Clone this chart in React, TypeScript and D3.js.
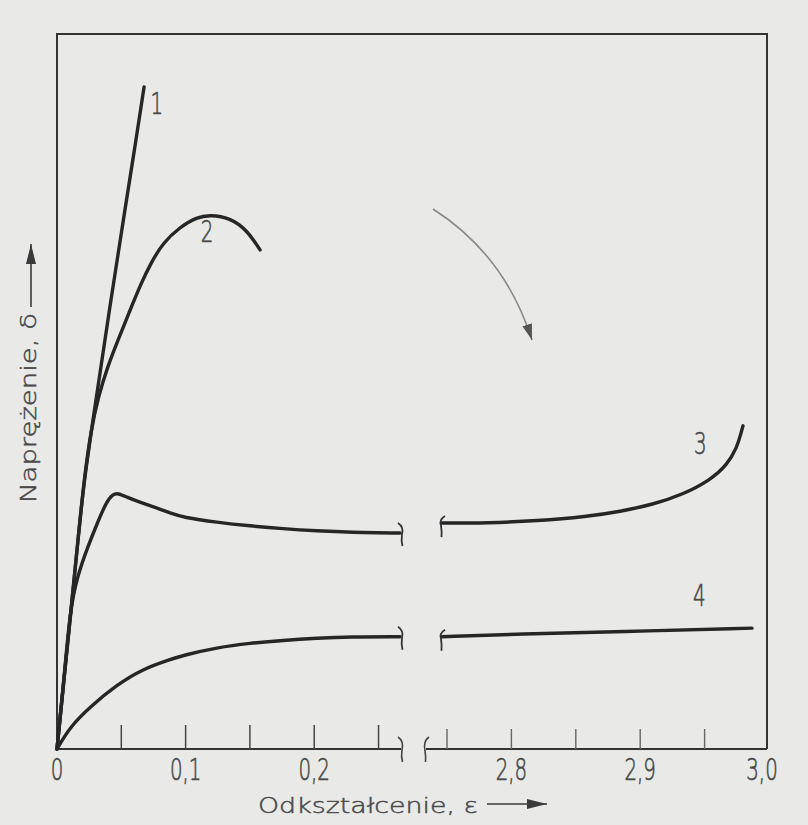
import React from "react";
import * as d3 from "d3";

// ---- data (strain ε, stress σ in arbitrary units 0..100) ----
const leftTicks = [0, 0.05, 0.1, 0.15, 0.2, 0.25];
const rightTicks = [2.75, 2.8, 2.85, 2.9, 2.95];
const leftTickLabels = [
  { v: 0, t: "0" },
  { v: 0.1, t: "0,1" },
  { v: 0.2, t: "0,2" },
];
const rightTickLabels = [
  { v: 2.8, t: "2,8" },
  { v: 2.9, t: "2,9" },
  { v: 3.0, t: "3,0" },
];

const curve1: [number, number][] = [
  [0, 0], [0.0054, 9.7], [0.0109, 19.4], [0.0163, 29.2], [0.021, 37.6],
  [0.0303, 48.8], [0.0412, 62.0], [0.0529, 75.5], [0.0604, 84.0], [0.0677, 92.6],
];
const curve2: [number, number][] = [
  [0, 0], [0.0054, 9.7], [0.0109, 19.4], [0.0163, 29.2], [0.021, 37.6],
  [0.0264, 44.6], [0.0322, 49.3], [0.0390, 53.3], [0.0472, 57.1], [0.0560, 61.0],
  [0.0648, 64.9], [0.0731, 68.0], [0.0824, 70.8], [0.0956, 73.0], [0.1089, 74.4],
  [0.119, 74.7], [0.1345, 74.3], [0.1477, 72.6], [0.1579, 69.8],
];
const curve3Left: [number, number][] = [
  [0, 0], [0.0054, 9.7], [0.0101, 19.4], [0.0160, 24.3], [0.0240, 28.3],
  [0.0320, 31.9], [0.0386, 34.6], [0.0432, 35.6], [0.0474, 35.8], [0.0544, 35.2],
  [0.0645, 34.5], [0.0778, 33.7], [0.0879, 33.0], [0.098, 32.4], [0.1244, 31.7],
  [0.1501, 31.2], [0.1757, 30.8], [0.2022, 30.5], [0.2278, 30.3], [0.2667, 30.2],
];
const curve3Right: [number, number][] = [
  [2.7461, 31.6], [2.7811, 31.6], [2.8199, 31.9], [2.8587, 32.5], [2.8843, 33.2],
  [2.9099, 34.2], [2.9332, 35.6], [2.9542, 37.6], [2.9674, 39.7], [2.9752, 42.2],
  [2.9783, 44.2], [2.9798, 45.2],
];
const curve4Left: [number, number][] = [
  [0, 0], [0.0101, 3.1], [0.0257, 5.9], [0.0467, 9.0], [0.0669, 11.2],
  [0.0879, 12.5], [0.098, 13.1], [0.1244, 14.2], [0.1501, 14.8], [0.1757, 15.2],
  [0.2022, 15.5], [0.2278, 15.7], [0.2667, 15.7],
];
const curve4Right: [number, number][] = [
  [2.7461, 15.7], [2.8067, 16.1], [2.8843, 16.4], [2.9868, 16.9],
];
const curveLabels = [
  { t: "1", seg: "L", x: 0.0775, y: 88.8 },
  { t: "2", seg: "L", x: 0.1166, y: 70.9 },
  { t: "3", seg: "R", x: 2.9467, y: 41.2 },
  { t: "4", seg: "R", x: 2.9459, y: 20.0 },
];

const BG = "#e9eae8";
const INK = "#262626";
const TXT = "#4a4a4a";
const FONT = "'DejaVu Sans', sans-serif";

export default function App() {
  const W = 808, H = 825;
  const x0 = 57, xEnd = 767, yTop = 34, yBot = 749;
  const xL = d3.scaleLinear().domain([0, 0.267]).range([57, 400.4]);
  const xR = d3.scaleLinear().domain([2.75, 3.0]).range([447, 769]);
  const y = d3.scaleLinear().domain([0, 100]).range([yBot, yTop]);

  const lineL = d3.line<[number, number]>()
    .x((d) => xL(d[0])).y((d) => y(d[1]))
    .curve(d3.curveBasis);
  const lineR = d3.line<[number, number]>()
    .x((d) => xR(d[0])).y((d) => y(d[1]))
    .curve(d3.curveBasis);

  const leftBreak = (px: number, py: number, up = 10, dn = 13) =>
    `M${px - 3},${py - up} Q${px + 3},${py - up + 4} ${px + 1},${py + 1} Q${px},${py + dn - 5} ${px + 1.5},${py + dn}`;
  const rightBreak = (px: number, py: number, up = 7, dn = 14) =>
    `M${px + 3},${py - up} Q${px - 3},${py - up + 4} ${px - 1},${py + 2} Q${px},${py + dn - 5} ${px - 0.5},${py + dn}`;

  const c3L = curve3Left[curve3Left.length - 1];
  const c3R = curve3Right[0];
  const c4L = curve4Left[curve4Left.length - 1];
  const c4R = curve4Right[0];
  const axisBreakL = 401;
  const axisBreakR = 426;

  const txtProps = {
    fontFamily: FONT,
    fontWeight: 300,
    stroke: TXT,
    strokeWidth: 0.7,
  };

  return (
    <svg
      width={W}
      height={H}
      style={{ position: "absolute", left: 0, top: 0, display: "block" }}
    >
      <defs>
        <marker id="arr" viewBox="0 0 20 10" refX="20" refY="5" markerWidth="20" markerHeight="10" markerUnits="userSpaceOnUse" orient="auto">
          <path d="M0,0 L20,5 L0,10 Z" fill="#3a3a3a" />
        </marker>
        <marker id="arrG" viewBox="0 0 16 10" refX="16" refY="5" markerWidth="16" markerHeight="10" markerUnits="userSpaceOnUse" orient="auto">
          <path d="M0,0 L16,5 L0,10 Z" fill="#555" />
        </marker>
      </defs>
      <rect x={0} y={0} width={W} height={H} fill={BG} />

      {/* frame */}
      <path
        d={`M${x0},${yBot} V${yTop} H${xEnd} V${yBot}`}
        fill="none" stroke="#333" strokeWidth={2}
      />
      {/* broken x axis */}
      <line x1={x0} x2={axisBreakL} y1={yBot} y2={yBot} stroke="#333" strokeWidth={2} />
      <line x1={axisBreakR} x2={xEnd} y1={yBot} y2={yBot} stroke="#333" strokeWidth={2} />
      <path d={leftBreak(axisBreakL, yBot, 12, 13)} fill="none" stroke="#444" strokeWidth={1.6} />
      <path d={rightBreak(axisBreakR, yBot, 12, 13)} fill="none" stroke="#444" strokeWidth={1.6} />

      {/* ticks */}
      {leftTicks.slice(1).map((t) => (
        <line key={"lt" + t} x1={xL(t)} x2={xL(t)} y1={yBot} y2={yBot - 24} stroke="#444" strokeWidth={1.5} />
      ))}
      {rightTicks.map((t) => (
        <line key={"rt" + t} x1={xR(t)} x2={xR(t)} y1={yBot} y2={yBot - 20} stroke="#666" strokeWidth={1.4} />
      ))}

      {/* tick labels */}
      {leftTickLabels.map((d) => (
        <g key={"ll" + d.t} transform={`translate(${xL(d.v)},${780}) scale(0.66,1)`}>
          <text textAnchor="middle" {...txtProps} fontSize={30} fill={TXT}>{d.t}</text>
        </g>
      ))}
      {rightTickLabels.map((d) => (
        <g key={"rl" + d.t} transform={`translate(${Math.min(xR(d.v), 762)},${780}) scale(0.66,1)`}>
          <text textAnchor="middle" {...txtProps} fontSize={30} fill={TXT}>{d.t}</text>
        </g>
      ))}

      {/* curves */}
      <g fill="none" stroke={INK} strokeWidth={3.4} strokeLinecap="round" strokeLinejoin="round">
        <path d={lineL(curve1) || ""} />
        <path d={lineL(curve2) || ""} />
        <path d={lineL(curve3Left) || ""} />
        <path d={lineR(curve3Right) || ""} />
        <path d={lineL(curve4Left) || ""} />
        <path d={lineR(curve4Right) || ""} />
      </g>
      {/* break marks on curves */}
      <g fill="none" stroke="#333" strokeWidth={1.8}>
        <path d={leftBreak(xL(c3L[0]) + 1, y(c3L[1]))} />
        <path d={rightBreak(xR(c3R[0]), y(c3R[1]))} />
        <path d={leftBreak(xL(c4L[0]) + 1, y(c4L[1]))} />
        <path d={rightBreak(xR(c4R[0]), y(c4R[1]))} />
      </g>

      {/* curve labels */}
      {curveLabels.map((d) => (
        <g key={"cl" + d.t} transform={`translate(${d.seg === "L" ? xL(d.x) : xR(d.x)},${y(d.y)}) scale(0.66,1)`}>
          <text textAnchor="middle" {...txtProps} fontSize={30} fill={TXT}>{d.t}</text>
        </g>
      ))}

      {/* curved annotation arrow */}
      <path
        d="M433,209 Q505,255 532,340"
        fill="none" stroke="#888" strokeWidth={1.6}
        markerEnd="url(#arrG)"
      />

      {/* x axis title */}
      <text x={258} y={813} {...txtProps} strokeWidth={0.5} fontSize={22} fill={TXT}
        textLength={220} lengthAdjust="spacingAndGlyphs">Odkształcenie, ε</text>
      <line x1={487} x2={547} y1={804} y2={804} stroke="#3a3a3a" strokeWidth={1.6} markerEnd="url(#arr)" />

      {/* y axis title */}
      <g transform="translate(36,503) rotate(-90)">
        <text x={0} y={0} {...txtProps} strokeWidth={0.5} fontSize={21} fill={TXT}
          textLength={190} lengthAdjust="spacingAndGlyphs">Naprężenie, δ</text>
      </g>
      <line x1={31} x2={31} y1={307} y2={244} stroke="#3a3a3a" strokeWidth={1.6} markerEnd="url(#arr)" />
    </svg>
  );
}
